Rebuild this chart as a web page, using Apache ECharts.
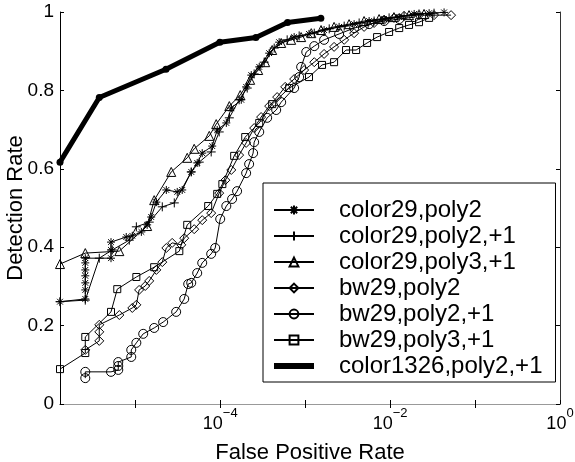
<!DOCTYPE html>
<html><head><meta charset="utf-8">
<script src="https://cdn.jsdelivr.net/npm/echarts@6/dist/echarts.min.js"></script>
<style>html,body{margin:0;padding:0;background:#fff}#c{width:575px;height:462px}</style>
</head><body><div id="c"></div>
<script>
const FONT = "'Liberation Sans', Arial, Helvetica, sans-serif";
const seriesNames = ['color29,poly2','color29,poly2,+1','color29,poly3,+1','bw29,poly2','bw29,poly2,+1','bw29,poly3,+1','color1326,poly2,+1'];
const xTickValues = [1e-5,1e-4,1e-3,1e-2,1e-1];
const xLabelValues = [1e-4,1e-2,1];

const starFP = [1.3e-6,2.58e-6,2.58e-6,2.58e-6,2.58e-6,2.58e-6,2.58e-6,2.58e-6,5.18e-6,5.18e-6,5.18e-6,7.83e-6,9.22e-6,1.18e-5,1.38e-5,1.54e-5,1.77e-5,2.32e-5,3.12e-5,3.57e-5,4.56e-5,5.36e-5,6.14e-5,8.05e-5,9.22e-5,1.18e-4,1.35e-4,1.77e-4,2.02e-4,2.32e-4,2.88e-4,3.77e-4,4.94e-4,7.42e-4,1.11e-3,1.67e-3,2.51e-3,3.77e-3,5.66e-3,8.5e-3,1.28e-2,1.92e-2,2.88e-2,4.32e-2];
const starDet = [.261,.268,.291,.309,.327,.342,.360,.372,.372,.393,.413,.426,.429,.439,.457,.477,.515,.546,.541,.546,.592,.615,.640,.658,.699,.717,.755,.776,.809,.839,.860,.895,.923,.936,.944,.954,.962,.969,.977,.982,.987,.995,.997,.999];

const plusFP = [1.3e-6,2.58e-6,3.77e-6,5.36e-6,8.5e-6,1.03e-5,1.46e-5,2.08e-5,2.88e-5,4.56e-5,5.66e-5,7.83e-5,9.73e-5,1.28e-4,1.67e-4,2.08e-4,2.51e-4,3.29e-4,4.32e-4,6.14e-4,8.5e-4,1.28e-3,1.92e-3,2.88e-3,4.32e-3,6.48e-3,9.73e-3,1.46e-2,2.19e-2,3.29e-2];
const plusDet = [.261,.265,.372,.393,.418,.452,.464,.503,.513,.592,.617,.643,.694,.730,.776,.806,.842,.872,.908,.929,.939,.946,.957,.964,.972,.977,.985,.990,.995,.997];

const triFP = [1.3e-6,2.58e-6,6.49e-6,1.38e-5,1.67e-5,2.65e-5,4.09e-5,4.94e-5,7.43e-5,8.97e-5,1.28e-4,1.72e-4,2.25e-4,2.8e-4,3.38e-4,4.09e-4,5.22e-4,6.84e-4,8.97e-4,1.18e-3,1.54e-3,2.19e-3,3.29e-3,4.94e-3,7.42e-3,1.11e-2,1.67e-2,2.51e-2];
const triDet = [.357,.385,.390,.454,.520,.592,.628,.651,.684,.714,.760,.788,.827,.852,.872,.903,.921,.929,.936,.946,.954,.962,.969,.977,.982,.987,.992,.995];

const diaFP = [2.58e-6,3.77e-6,3.77e-6,3.77e-6,6.49e-6,9.22e-6,1.03e-5,1.11e-5,1.31e-5,1.46e-5,1.77e-5,2.08e-5,2.32e-5,2.72e-5,3.48e-5,3.77e-5,4.94e-5,6.14e-5,7.83e-5,9.73e-5,1.15e-4,1.35e-4,1.67e-4,2.02e-4,2.51e-4,3.03e-4,3.77e-4,4.68e-4,5.82e-4,7.42e-4,9.73e-4,1.28e-3,1.67e-3,2.19e-3,2.88e-3,3.77e-3,4.94e-3,6.48e-3,8.5e-3,1.11e-2,1.46e-2,2.19e-2,3.29e-2,5.22e-2];
const diaDet = [.138,.161,.184,.202,.227,.245,.253,.291,.301,.314,.342,.362,.398,.411,.406,.423,.446,.469,.487,.538,.571,.597,.635,.666,.704,.732,.760,.783,.809,.829,.852,.872,.893,.911,.929,.946,.962,.972,.980,.985,.990,.992,.992,.992];

const circFP = [2.58e-6,2.58e-6,5.18e-6,6.31e-6,6.31e-6,6.31e-6,8.97e-6,8.97e-6,1.03e-5,1.24e-5,1.67e-5,2.13e-5,3.03e-5,3.77e-5,4.2e-5,4.56e-5,5.36e-5,6.14e-5,7.83e-5,8.73e-5,1.0e-4,1.18e-4,1.38e-4,1.58e-4,2.02e-4,2.19e-4,2.44e-4,2.51e-4,2.88e-4,3.57e-4,4.56e-4,5.22e-4,7.42e-4,8.5e-4,8.97e-4,1.03e-3,1.28e-3,1.67e-3,2.51e-3,3.77e-3,5.66e-3,8.5e-3,1.28e-2,1.92e-2];
const circDet = [.066,.082,.082,.087,.097,.107,.120,.138,.156,.179,.194,.209,.235,.268,.306,.309,.334,.360,.383,.398,.472,.505,.523,.543,.589,.612,.640,.668,.694,.730,.750,.770,.806,.834,.860,.898,.913,.929,.944,.959,.969,.977,.982,.987];

const sqFP = [1.3e-6,2.58e-6,2.58e-6,5.18e-6,6.14e-6,1.03e-5,1.67e-5,3.3e-5,4.09e-5,7.22e-5,9.22e-5,1.06e-4,1.46e-4,1.97e-4,2.88e-4,4.09e-4,6.48e-4,1.11e-3,1.58e-3,2.19e-3,3.03e-3,3.98e-3,5.36e-3,7.03e-3,9.73e-3,1.28e-2,1.67e-2,2.19e-2,2.88e-2];
const sqDet = [.089,.130,.171,.235,.293,.324,.349,.390,.457,.505,.536,.561,.633,.681,.717,.765,.806,.834,.865,.872,.903,.903,.921,.936,.949,.959,.967,.974,.985];

const boldFP = [1.3e-6,3.77e-6,2.3e-5,9.9e-5,2.63e-4,6.2e-4,1.53e-3];
const boldDet = [.617,.782,.854,.923,.935,.973,.984];

const STAR = 'path://M0,-5L0,5M-5,0L5,0M-3.6,-3.6L3.6,3.6M-3.6,3.6L3.6,-3.6';
const PLUS = 'path://M0,-5L0,5M-5,0L5,0';

function pts(fp, det){ return fp.map((x,i)=>[x, det[i]]); }
function mk(name, fp, det, symbol, size){
  return {
    name, type:'line', data: pts(fp, det), symbol, symbolSize: size, showSymbol:true,
    lineStyle:{color:'#000', width:1}, itemStyle:{color:'rgba(255,255,255,0)', borderColor:'#000', borderWidth:1},
    emphasis:{disabled:true}, silent:true, animation:false
  };
}
const series = [
  mk(seriesNames[0], starFP, starDet, STAR, 8),
  mk(seriesNames[1], plusFP, plusDet, PLUS, 9),
  mk(seriesNames[2], triFP, triDet, 'triangle', 9),
  mk(seriesNames[3], diaFP, diaDet, 'diamond', 9),
  mk(seriesNames[4], circFP, circDet, 'circle', 9),
  mk(seriesNames[5], sqFP, sqDet, 'rect', 7),
  { name: seriesNames[6], type:'line', data: pts(boldFP, boldDet), symbol:'circle', symbolSize:7,
    lineStyle:{color:'#000', width:5}, itemStyle:{color:'#000'}, emphasis:{disabled:true}, silent:true, animation:false }
];

const chart = echarts.init(document.getElementById('c'), null, {renderer:'canvas'});
const tickCommon = {show:true, inside:true, length:4, lineStyle:{color:'#000', width:1}};
chart.setOption({
  animation:false,
  backgroundColor:'#fff',
  textStyle:{fontFamily:FONT},
  grid:{left:60, right:15, top:12, bottom:58, containLabel:false, outerBoundsMode:'none'},
  xAxis:[{
    type:'log', min:1.3e-6, max:1, position:'bottom',
    axisLine:{show:true, lineStyle:{color:'#000', width:1}},
    axisTick:Object.assign({customValues:xTickValues.concat([1])}, tickCommon),
    minorTick:{show:false}, splitLine:{show:false},
    axisLabel:{show:true, customValues:xLabelValues, margin:3, color:'#000',
      formatter: v => { const e = Math.round(Math.log10(v)); return '{b|10}{s|' + (e<0 ? '\u2212' : '') + Math.abs(e) + '}'; },
      rich:{ b:{fontSize:18, fontFamily:FONT, color:'#000', lineHeight:26, verticalAlign:'bottom'},
             s:{fontSize:13, fontFamily:FONT, color:'#000', lineHeight:26, verticalAlign:'top'} } },
    name:'False Positive Rate', nameLocation:'middle', nameGap:38, nameMoveOverlap:false,
    nameTextStyle:{fontSize:22, color:'#000', fontFamily:FONT}
  },{
    type:'log', min:1.3e-6, max:1, position:'top',
    axisLine:{show:true, lineStyle:{color:'#999', width:1}},
    axisTick:Object.assign({customValues:xTickValues}, tickCommon),
    axisLabel:{show:false}, splitLine:{show:false}
  }],
  yAxis:[{
    type:'value', min:0, max:1, interval:0.2, position:'left',
    axisLine:{show:true, lineStyle:{color:'#000', width:1}},
    axisTick:tickCommon, splitLine:{show:false},
    axisLabel:{fontSize:19, color:'#000', fontFamily:FONT, margin:6},
    name:'Detection Rate', nameLocation:'middle', nameGap:33, nameRotate:90, nameMoveOverlap:false,
    nameTextStyle:{fontSize:22, color:'#000', fontFamily:FONT}
  },{
    type:'value', min:0, max:1, interval:0.2, position:'right',
    axisLine:{show:true, lineStyle:{color:'#333', width:1}},
    axisTick:tickCommon, axisLabel:{show:false}, splitLine:{show:false}
  }],
  legend:{
    orient:'vertical', left:263, top:183, padding:[15,13,4,10],
    itemWidth:40, itemHeight:11, itemGap:2, selectedMode:false,
    backgroundColor:'#fff', borderColor:'#000', borderWidth:1,
    textStyle:{fontSize:24, color:'#000', fontFamily:FONT, lineHeight:24, padding:[0,0,0,20]},
    data: seriesNames.slice(0,6).map(n=>({name:n})).concat([{name:seriesNames[6], icon:'path://M0,0L40,0L40,6L0,6Z', itemStyle:{color:'#000'}}])
  },
  series
});
</script></body></html>
